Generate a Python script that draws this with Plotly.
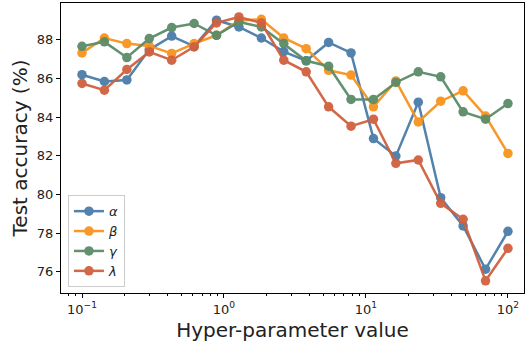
import plotly.graph_objects as go

x_values = [0.1, 0.1438, 0.2069, 0.2976, 0.4281, 0.6158, 0.8859, 1.274, 1.833, 2.637,
            3.793, 5.456, 7.848, 11.29, 16.24, 23.36, 33.60, 48.33, 69.52, 100.0]

alpha_acc = [86.2, 85.85, 85.93, 87.5, 88.2, 87.67, 89.02, 88.67, 88.1, 87.4,
             86.92, 87.87, 87.33, 82.9, 81.99, 84.78, 79.84, 78.38, 76.14, 78.1]
beta_acc = [87.33, 88.1, 87.81, 87.69, 87.3, 87.81, 88.24, 89.0, 89.07, 88.1,
            87.55, 86.43, 86.18, 84.54, 85.88, 83.76, 84.83, 85.37, 84.06, 82.13]
gamma_acc = [87.67, 87.9, 87.09, 88.07, 88.64, 88.85, 88.24, 88.93, 88.67, 87.81,
             86.92, 86.64, 84.92, 84.92, 85.8, 86.35, 86.09, 84.28, 83.9, 84.71]
lambda_acc = [85.75, 85.4, 86.47, 87.38, 86.95, 87.64, 88.88, 89.19, 88.88, 86.95,
              86.35, 84.54, 83.54, 83.9, 81.62, 81.79, 79.55, 78.72, 75.54, 77.22]

series_names = ["α", "β", "γ", "λ"]
series_values = [alpha_acc, beta_acc, gamma_acc, lambda_acc]
colors = ["#4a7ca8", "#f7931e", "#5b8c68", "#d0603f"]

x_tickvals = [0.1, 1, 10, 100]
x_ticktext = ["10<sup>−1</sup>", "10<sup>0</sup>", "10<sup>1</sup>", "10<sup>2</sup>"]
y_tickvals = [76, 78, 80, 82, 84, 86, 88]

font_family = "DejaVu Sans"

fig = go.Figure()
for name, vals, col in zip(series_names, series_values, colors):
    fig.add_trace(go.Scatter(
        x=x_values, y=vals, mode="lines+markers", name=f"<i>{name}</i>",
        line=dict(color=col, width=2.5),
        marker=dict(color=col, size=9.5),
        opacity=0.95,
    ))

fig.update_layout(
    width=526, height=342,
    margin=dict(l=61, r=2, t=3, b=49),
    paper_bgcolor="white", plot_bgcolor="white",
    font=dict(family=font_family, color="#222222", size=13),
    showlegend=True,
    legend=dict(
        x=0.015, y=0.02, xanchor="left", yanchor="bottom",
        bgcolor="rgba(255,255,255,0.8)", bordercolor="#cccccc", borderwidth=1,
        font=dict(size=13, family=font_family),
        itemwidth=30, tracegroupgap=0,
    ),
)

fig.update_xaxes(
    type="log", range=[-1.148, 2.113],
    tickvals=x_tickvals, ticktext=x_ticktext,
    ticks="outside", ticklen=4, tickwidth=1, tickcolor="black",
    minor=dict(ticks="outside", ticklen=2, tickwidth=0.8, tickcolor="black", dtick="D1", showgrid=False),
    showgrid=False, zeroline=False,
    showline=True, linecolor="black", linewidth=1.2, mirror=True,
    tickfont=dict(size=13, family=font_family),
    title=dict(text="Hyper-parameter value", font=dict(size=20, family=font_family), standoff=8),
)
fig.update_yaxes(
    range=[74.91, 89.91],
    tickvals=y_tickvals,
    ticks="outside", ticklen=4, tickwidth=1, tickcolor="black",
    showgrid=False, zeroline=False,
    showline=True, linecolor="black", linewidth=1.2, mirror=True,
    tickfont=dict(size=13, family=font_family),
    title=dict(text="Test accuracy (%)", font=dict(size=20, family=font_family), standoff=3),
)

fig.write_html(
    "out.html",
    config={"displayModeBar": False},
    post_script="document.body.style.margin='0';document.body.style.overflow='hidden';",
)
